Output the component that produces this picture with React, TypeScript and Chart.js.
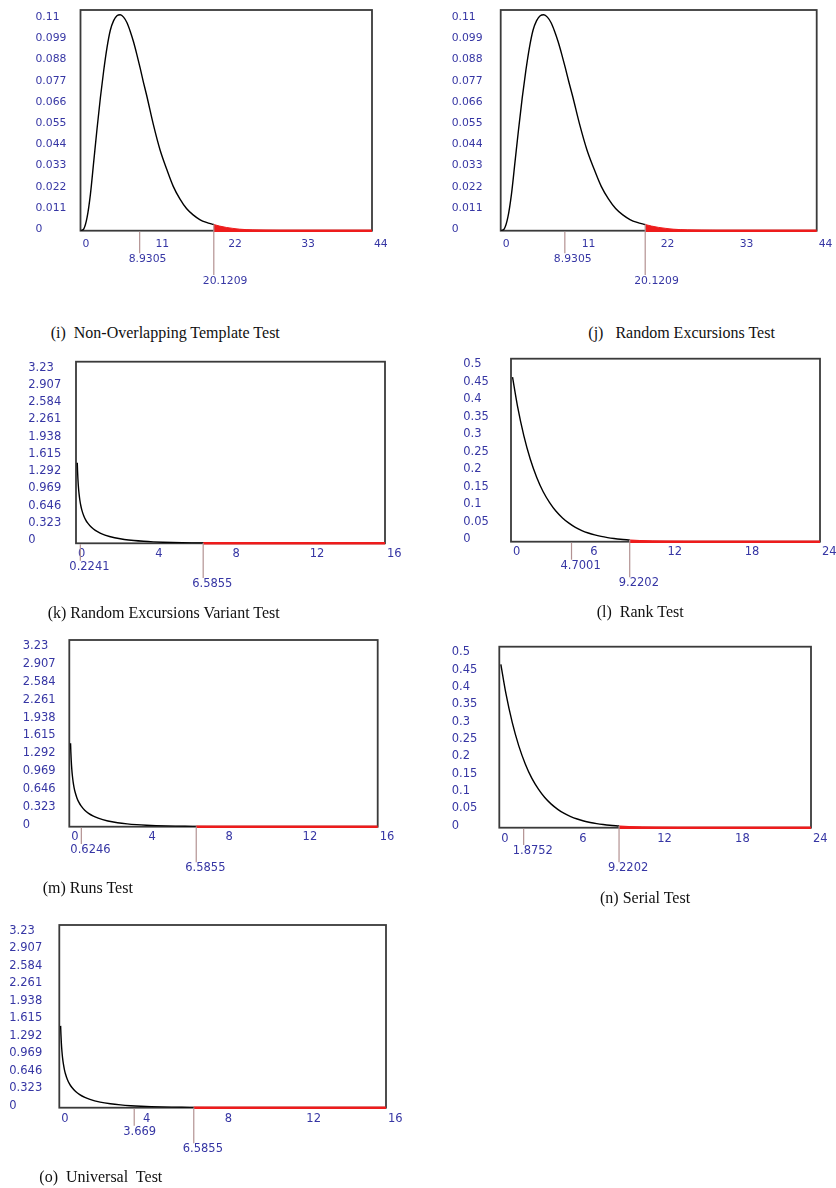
import React, { useEffect, useRef } from 'react';
import { Chart, registerables } from 'chart.js';

Chart.register(...registerables);

// ---------- data ----------
// chi-square (8 d.f.) density, body up to the critical value
const chi8X = [0, 0.5, 1, 1.5, 2, 2.5, 3, 3.5, 4, 4.5, 5, 5.5, 6, 6.5, 7, 7.5, 8, 8.5, 9, 9.5, 10, 11, 12, 13, 14, 15, 16, 17, 18, 19, 20.1209];
const chi8Y = [0, 0.001, 0.007, 0.019, 0.036, 0.053, 0.069, 0.083, 0.095, 0.104, 0.109, 0.1115, 0.112, 0.1108, 0.108, 0.1035, 0.098, 0.0915, 0.0845, 0.077, 0.07, 0.055, 0.042, 0.032, 0.023, 0.0165, 0.0115, 0.0082, 0.0058, 0.0043, 0.0032];
const chi8TailX = [20.1209, 21, 22, 23, 24, 26, 28, 30, 34, 44];
const chi8TailY = [0.0032, 0.0024, 0.0017, 0.0012, 0.0008, 0.0004, 0.0002, 0.0001, 0.00002, 0];

// chi-square (1 d.f.) density
const chi1X = [0.065, 0.08, 0.1, 0.13, 0.16, 0.2, 0.25, 0.3, 0.4, 0.5, 0.6, 0.8, 1, 1.25, 1.5, 2, 2.5, 3, 3.5, 4, 4.5, 5, 5.5, 6, 6.5855];
const chi1Y = [1.51, 1.355, 1.2, 1.037, 0.921, 0.807, 0.704, 0.627, 0.516, 0.439, 0.3815, 0.299, 0.242, 0.191, 0.154, 0.104, 0.0723, 0.0514, 0.0371, 0.027, 0.0198, 0.0147, 0.0109, 0.0081, 0.0058];
const chi1TailX = [6.5855, 7, 8, 9, 10, 12, 14, 16];
const chi1TailY = [0.0058, 0.0046, 0.0026, 0.0015, 0.00085, 0.00029, 0.0001, 0.00003];

// chi-square (2 d.f.) density
const chi2X = [0.12, 0.5, 1, 1.5, 2, 2.5, 3, 3.5, 4, 4.5, 5, 5.5, 6, 6.5, 7, 7.5, 8, 8.5, 9.2202];
const chi2Y = [0.471, 0.389, 0.303, 0.236, 0.184, 0.143, 0.112, 0.087, 0.068, 0.053, 0.041, 0.032, 0.025, 0.0194, 0.0151, 0.0118, 0.0092, 0.0071, 0.005];
const chi2TailX = [9.2202, 10, 11, 12, 14, 16, 18, 20, 24];
const chi2TailY = [0.005, 0.0034, 0.002, 0.0012, 0.00046, 0.00017, 0.00006, 0.00002, 0.000003];

// tick labels
const yTicksI = ['0', '0.011', '0.022', '0.033', '0.044', '0.055', '0.066', '0.077', '0.088', '0.099', '0.11'];
const yTicksK = ['0', '0.323', '0.646', '0.969', '1.292', '1.615', '1.938', '2.261', '2.584', '2.907', '3.23'];
const yTicksL = ['0', '0.05', '0.1', '0.15', '0.2', '0.25', '0.3', '0.35', '0.4', '0.45', '0.5'];
const xTicksI = [0, 11, 22, 33, 44];
const xTicksK = [0, 4, 8, 12, 16];
const xTicksL = [0, 6, 12, 18, 24];

// observed statistic, critical value
const markersI = [8.9305, 20.1209];
const markersJ = [8.9305, 20.1209];
const markersK = [0.2241, 6.5855];
const markersL = [4.7001, 9.2202];
const markersM = [0.6246, 6.5855];
const markersN = [1.8752, 9.2202];
const markersO = [3.669, 6.5855];

const captionI = '(i)  Non-Overlapping Template Test';
const captionJ = '(j)   Random Excursions Test';
const captionK = '(k) Random Excursions Variant Test';
const captionL = '(l)  Rank Test';
const captionM = '(m) Runs Test';
const captionN = '(n) Serial Test';
const captionO = '(o)  Universal  Test';

// ---------- styles ----------
const BLUE = '#3636a4';
const RED = '#ee1c1c';
const MARK = '#b39292';
const FRAME = '#3a3a3a';

type Dist = { bx: number[]; by: number[]; tx: number[]; ty: number[] };
const dist8: Dist = { bx: chi8X, by: chi8Y, tx: chi8TailX, ty: chi8TailY };
const dist1: Dist = { bx: chi1X, by: chi1Y, tx: chi1TailX, ty: chi1TailY };
const dist2: Dist = { bx: chi2X, by: chi2Y, tx: chi2TailX, ty: chi2TailY };

type PanelSpec = {
  dist: Dist; yTicks: string[]; xTicks: number[]; markers: number[];
  caption: string; capL: number; capY: number;
  labelL: number; plotL: number; plotT: number; plotR: number; plotB: number;
  xmax: number; ymax: number; fs: number; yOff: number; xc: number; m1: number; m2: number;
};

const panels: PanelSpec[] = [
  { dist: dist8, yTicks: yTicksI, xTicks: xTicksI, markers: markersI, caption: captionI, capL: 50.7, capY: 332.7,
    labelL: 35.5, plotL: 80.5, plotT: 10, plotR: 372, plotB: 230.7, xmax: 44, ymax: 0.1145, fs: 10.8, yOff: -1.4, xc: 13.6, m1: 28.6, m2: 50.3 },
  { dist: dist8, yTicks: yTicksI, xTicks: xTicksI, markers: markersJ, caption: captionJ, capL: 588.3, capY: 333,
    labelL: 451.7, plotL: 500.7, plotT: 10, plotR: 816.7, plotB: 230.7, xmax: 44, ymax: 0.1145, fs: 10.8, yOff: -1.4, xc: 13.6, m1: 28.6, m2: 50.3 },
  { dist: dist1, yTicks: yTicksK, xTicks: xTicksK, markers: markersK, caption: captionK, capL: 47.7, capY: 613.3,
    labelL: 28.3, plotL: 76, plotT: 361.7, plotR: 385, plotB: 543.3, xmax: 16, ymax: 3.405, fs: 11.5, yOff: -3.3, xc: 10.7, m1: 23.4, m2: 40.7 },
  { dist: dist2, yTicks: yTicksL, xTicks: xTicksL, markers: markersL, caption: captionL, capL: 596.7, capY: 612.3,
    labelL: 463.3, plotL: 511, plotT: 358.7, plotR: 820, plotB: 541.7, xmax: 24, ymax: 0.5238, fs: 11.5, yOff: -2.7, xc: 10.6, m1: 24, m2: 41.6 },
  { dist: dist1, yTicks: yTicksK, xTicks: xTicksK, markers: markersM, caption: captionM, capL: 42.7, capY: 888,
    labelL: 22.7, plotL: 69.3, plotT: 640, plotR: 377.7, plotB: 826.7, xmax: 16, ymax: 3.376, fs: 11.5, yOff: -2, xc: 10.6, m1: 23.3, m2: 41.6 },
  { dist: dist2, yTicks: yTicksL, xTicks: xTicksL, markers: markersN, caption: captionN, capL: 600, capY: 897.7,
    labelL: 451.7, plotL: 499.3, plotT: 646.7, plotR: 811, plotB: 827.7, xmax: 24, ymax: 0.522, fs: 11.5, yOff: -2, xc: 11.3, m1: 23.3, m2: 40.6 },
  { dist: dist1, yTicks: yTicksK, xTicks: xTicksK, markers: markersO, caption: captionO, capL: 39.3, capY: 1176.7,
    labelL: 9.3, plotL: 59.3, plotT: 925, plotR: 386, plotB: 1107.7, xmax: 16, ymax: 3.372, fs: 11.5, yOff: -2, xc: 11.3, m1: 24, m2: 41.6 },
];

function geometry(p: PanelSpec) {
  const cl = Math.floor(p.labelL - 4);
  const ct = Math.floor(p.plotT - 12);
  const cw = Math.ceil(p.plotR + 30 - cl);
  const ch = Math.ceil(p.plotB + 70 - ct);
  return {
    cl, ct, cw, ch,
    padL: p.labelL - cl,
    padT: p.plotT - ct,
    padR: cl + cw - p.plotR,
    yW: p.plotL - p.labelL,
    xH: ct + ch - p.plotB,
  };
}

function Panel({ p }: { p: PanelSpec }) {
  const ref = useRef<HTMLCanvasElement | null>(null);
  const g = geometry(p);

  useEffect(() => {
    if (!ref.current) return;
    const font = { family: 'DejaVu Sans', size: p.fs };
    const body = p.dist.bx.map((x, i) => ({ x, y: p.dist.by[i] }));
    const tail = p.dist.tx.map((x, i) => ({ x, y: p.dist.ty[i] }));
    const crit = p.markers[1];

    const panelPlugin = {
      id: 'panelDecor',
      beforeDatasetsDraw(chart: any) {
        const { ctx, chartArea: a } = chart;
        ctx.save();
        ctx.strokeStyle = FRAME;
        ctx.lineWidth = 1.8;
        ctx.strokeRect(a.left, a.top, a.right - a.left, a.bottom - a.top);
        ctx.restore();
      },
      afterDatasetsDraw(chart: any) {
        const { ctx, chartArea: a, scales } = chart;
        const xs = scales.x;
        const ys = scales.y;
        ctx.save();
        ctx.strokeStyle = MARK;
        ctx.lineWidth = 1.2;
        const offs = [p.m1, p.m2];
        p.markers.forEach((m, i) => {
          const px = xs.getPixelForValue(m);
          const yTop = i === 1 ? ys.getPixelForValue(p.dist.ty[0]) : a.bottom + 1;
          const yEnd = a.bottom + offs[i] - 6;
          ctx.beginPath();
          ctx.moveTo(px, yTop);
          ctx.lineTo(px, yEnd);
          ctx.stroke();
          ctx.fillStyle = BLUE;
          ctx.font = `${p.fs}px "DejaVu Sans"`;
          ctx.textAlign = 'left';
          ctx.textBaseline = 'middle';
          ctx.fillText(String(m), px - 11, a.bottom + offs[i]);
        });
        ctx.restore();
      },
    };

    const chart = new Chart(ref.current, {
      type: 'line',
      data: {
        datasets: [
          { data: body, borderColor: '#000', borderWidth: 1.4, pointRadius: 0, fill: false, cubicInterpolationMode: 'monotone' },
          { data: tail, borderColor: RED, backgroundColor: RED, borderWidth: 1, pointRadius: 0, fill: 'origin', cubicInterpolationMode: 'monotone' },
          { data: [{ x: crit, y: 0 }, { x: p.xmax, y: 0 }], borderColor: RED, borderWidth: 2.5, pointRadius: 0, fill: false, clip: false },
        ],
      } as any,
      options: {
        animation: false,
        responsive: false,
        devicePixelRatio: 1,
        events: [],
        layout: { padding: { left: g.padL, top: g.padT, right: g.padR, bottom: 0 } },
        plugins: { legend: { display: false }, tooltip: { enabled: false } },
        scales: {
          x: {
            type: 'linear', min: 0, max: p.xmax,
            afterBuildTicks: (s: any) => { s.ticks = p.xTicks.map((v) => ({ value: v })); },
            afterFit: (s: any) => { s.height = g.xH; },
            grid: { display: false, drawTicks: false },
            border: { display: false },
            ticks: {
              autoSkip: false, maxRotation: 0, minRotation: 0, align: 'start', labelOffset: 2,
              padding: p.xc - (p.fs * 1.2) / 2, color: BLUE, font,
              callback: (v: any) => String(v),
            },
          },
          y: {
            type: 'linear', min: 0, max: p.ymax,
            afterBuildTicks: (s: any) => { s.ticks = p.yTicks.map((t) => ({ value: parseFloat(t) })); },
            afterFit: (s: any) => { s.width = g.yW; },
            grid: { display: false, drawTicks: false },
            border: { display: false },
            ticks: {
              autoSkip: false, crossAlign: 'far', labelOffset: p.yOff, color: BLUE, font,
              callback: (_v: any, i: number) => p.yTicks[i],
            },
          },
        },
      } as any,
      plugins: [panelPlugin],
    });
    return () => chart.destroy();
  }, []);

  return (
    <>
      <canvas
        ref={ref}
        width={g.cw}
        height={g.ch}
        style={{ position: 'absolute', left: g.cl, top: g.ct, width: g.cw, height: g.ch }}
      />
      <div
        style={{
          position: 'absolute', left: p.capL, top: p.capY - 9, height: 18, lineHeight: '18px',
          fontFamily: '"Liberation Serif", "Times New Roman", serif', fontSize: 16, color: '#111',
          whiteSpace: 'pre',
        }}
      >
        {p.caption}
      </div>
    </>
  );
}

export default function App() {
  return (
    <div style={{ position: 'absolute', left: 0, top: 0, width: 836, height: 1188, background: '#fff', overflow: 'hidden' }}>
      {panels.map((p, i) => (
        <Panel key={i} p={p} />
      ))}
    </div>
  );
}
